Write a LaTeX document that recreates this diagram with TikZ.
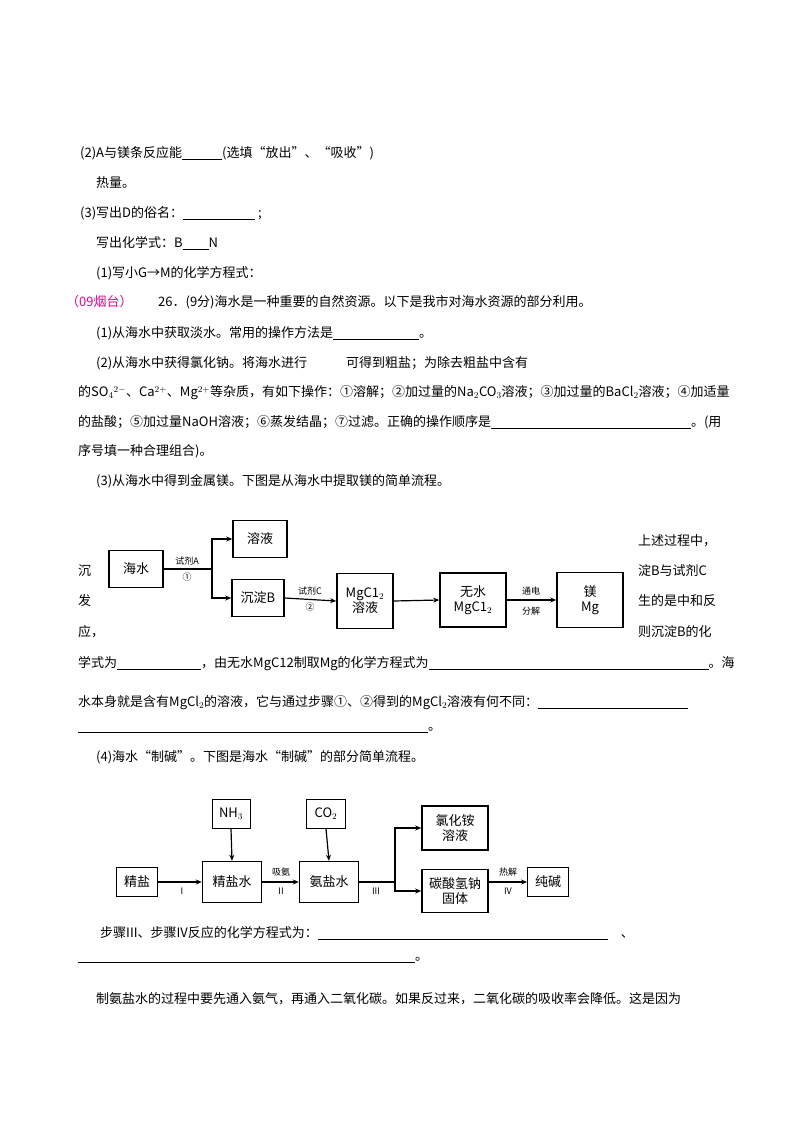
\documentclass[tikz,border=0pt]{standalone}
\usepackage{fontspec}
\setmainfont{Noto Sans CJK SC}
\usetikzlibrary{arrows.meta}
\newcommand{\blank}[1]{\rule[-2pt]{#1pt}{0.6pt}}
\begin{document}
\begin{tikzpicture}[x=1pt,y=-1pt,
  txt/.style={anchor=west,inner sep=0pt,font=\fontsize{13}{16}\selectfont},
  sm/.style={inner sep=0pt,font=\fontsize{9}{10}\selectfont},
  box/.style={draw,line width=1.5pt,align=center,inner sep=1pt,font=\fontsize{13}{15}\selectfont},
  sbox/.style={draw,line width=0.9pt,align=center,inner sep=1pt,font=\fontsize{13}{15}\selectfont},
  arr/.style={line width=1.2pt,-{Stealth[length=6pt,width=5pt]}},
  ln/.style={line width=1.2pt}]
\useasboundingbox (0,0) rectangle (800,1132);
\node[txt] (t1) at (80,153) {(2)A与镁条反应能\blank{40}(选填“放出”、“吸收”)};
\node[txt] (t2) at (96,183) {热量。};
\node[txt] (t3) at (80,213) {(3)写出D的俗名：\blank{72}\ ;};
\node[txt] (t4) at (96,243) {写出化学式：B\blank{26}N};
\node[txt] (t5) at (96,273) {(1)写小G→M的化学方程式：};
\node[txt,text=magenta] (t6) at (66,302) {（09烟台）};
\node[txt] (t7) at (158,302) {26．(9分)海水是一种重要的自然资源。以下是我市对海水资源的部分利用。};
\node[txt] (t8) at (96,333) {(1)从海水中获取淡水。常用的操作方法是\blank{86}。};
\node[txt] (t9) at (96,363) {(2)从海水中获得氯化钠。将海水进行\hspace{3em}可得到粗盐；为除去粗盐中含有};
\node[txt] (t10) at (78,393) {的SO$_4{}^{2-}$、Ca$^{2+}$、Mg$^{2+}$等杂质，有如下操作：①溶解；②加过量的Na$_2$CO$_3$溶液；③加过量的BaCl$_2$溶液；④加适量};
\node[txt] (t11) at (78,422) {的盐酸；⑤加过量NaOH溶液；⑥蒸发结晶；⑦过滤。正确的操作顺序是\blank{200}。(用};
\node[txt] (t12) at (78,451) {序号填一种合理组合)。};
\node[txt] (t13) at (96,481) {(3)从海水中得到金属镁。下图是从海水中提取镁的简单流程。};
% flowchart 1
\node[box,minimum width=54pt,minimum height=37pt] (hs) at (136,569) {海水};
\node[box,minimum width=54pt,minimum height=37pt] (ry) at (260,539) {溶液};
\node[box,minimum width=52pt,minimum height=37pt] (cb) at (258,598) {沉淀B};
\node[box,minimum width=56pt,minimum height=55pt] (mg1) at (365,601) {MgC1$_2$\\溶液};
\node[box,minimum width=66pt,minimum height=54pt] (mg2) at (473,600) {无水\\MgC1$_2$};
\node[box,minimum width=66pt,minimum height=55pt] (mg) at (590,600) {镁\\Mg};
\coordinate (br1) at (212,569);
\draw[ln] (hs.east) -- (br1);
\draw[arr] (br1) |- (ry.west);
\draw[arr] (br1) |- (cb.west);
\node[sm] (la) at (187,561) {试剂A};
\node[sm] (l1) at (187,577) {①};
\draw[arr] (cb.east) -- (mg1.west);
\node[sm] (lc) at (310,591) {试剂C};
\node[sm] (l2) at (310,607) {②};
\draw[arr] (mg1.east) -- (mg2.west);
\draw[arr] (mg2.east) -- (mg.west);
\node[sm] (ld) at (531,591) {通电};
\node[sm] (le) at (531,611) {分解};
\node[txt] (r1) at (638,541) {上述过程中，};
\node[txt] (r2) at (638,571) {淀B与试剂C};
\node[txt] (r3) at (638,601) {生的是中和反};
\node[txt] (r4) at (638,632) {则沉淀B的化};
\node[txt] (s1) at (78,571) {沉};
\node[txt] (s2) at (78,601) {发};
\node[txt] (s3) at (78,632) {应，};
\node[txt] (t14) at (78,664) {学式为\blank{84}，由无水MgC12制取Mg的化学方程式为\blank{280}。海};
\node[txt] (t15) at (78,703) {水本身就是含有MgCl$_2$的溶液，它与通过步骤①、②得到的MgCl$_2$溶液有何不同：\blank{150}};
\node[txt] (t16) at (78,730) {\blank{350}。};
\node[txt] (t17) at (96,757) {(4)海水“制碱”。下图是海水“制碱”的部分简单流程。};
% flowchart 2
\node[sbox,minimum width=38pt,minimum height=29pt] (nh) at (231,814) {NH$_3$};
\node[sbox,minimum width=39pt,minimum height=29pt] (co) at (326,814) {CO$_2$};
\node[sbox,minimum width=41pt,minimum height=29pt] (js) at (137,882) {精盐};
\node[box,minimum width=59pt,minimum height=41pt] (jsw) at (232,882) {精盐水};
\node[box,minimum width=59pt,minimum height=41pt] (ay) at (329,882) {氨盐水};
\node[box,minimum width=66pt,minimum height=44pt] (nhcl) at (455,828) {氯化铵\\溶液};
\node[box,minimum width=66pt,minimum height=43pt] (nahco) at (455,891) {碳酸氢钠\\固体};
\node[sbox,minimum width=41pt,minimum height=29pt] (cj) at (548,882) {纯碱};
\draw[arr] (nh.south) -- (jsw.north);
\draw[arr] (co.south) -- (ay.north);
\draw[arr] (js.east) -- (jsw.west);
\node[sm] (i1) at (182,891) {I};
\draw[arr] (jsw.east) -- (ay.west);
\node[sm] (i2a) at (281,872) {吸氨};
\node[sm] (i2) at (281,891) {II};
\coordinate (br2) at (395,882);
\draw[ln] (ay.east) -- (br2);
\draw[arr] (br2) |- (nhcl.west);
\draw[arr] (br2) |- (nahco.west);
\node[sm] (i3) at (376,891) {III};
\draw[arr] (nahco.east |- cj.west) -- (cj.west);
\node[sm] (i4a) at (508,872) {热解};
\node[sm] (i4) at (508,891) {IV};
\node[txt] (t18) at (100,933) {步骤III、步骤IV反应的化学方程式为：\blank{290}\quad 、};
\node[txt] (t19) at (78,960) {\blank{337}。};
\node[txt] (t20) at (96,999) {制氨盐水的过程中要先通入氨气，再通入二氧化碳。如果反过来，二氧化碳的吸收率会降低。这是因为};
\end{tikzpicture}
\end{document}
